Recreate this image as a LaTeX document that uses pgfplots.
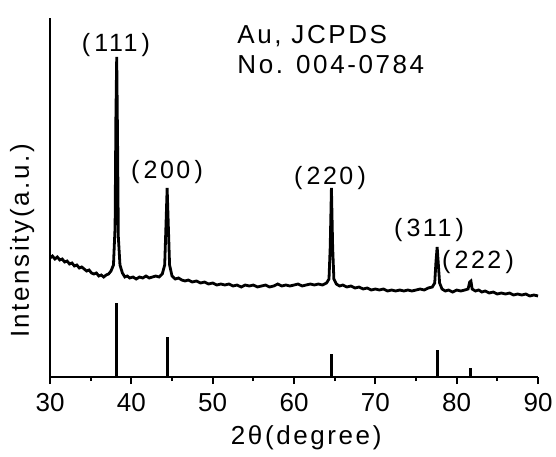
\documentclass[border=0pt]{standalone}
\usepackage{fontspec}
\setmainfont[LetterSpace=10]{Liberation Sans}
\newfontfamily\tickfont{Liberation Sans}
\usepackage{pgfplots}
\pgfplotsset{compat=1.18}

% measured XRD pattern (heights in image pixels above the x axis)
\pgfplotstableread{
x y
30.0 119
30.3 121
30.6 118
30.9 120
31.2 117
31.5 118
31.8 115
32.1 116
32.4 113
32.7 114
33.0 111
33.3 112
33.6 109
33.9 110
34.2 108
34.5 106
34.8 107
35.1 104
35.4 103
35.7 104
36.0 101
36.3 102
36.6 100
36.9 102
37.2 103
37.5 106
37.8 112
38.0 150
38.1 260
38.2 320
38.3 240
38.4 140
38.6 112
38.9 104
39.2 100
39.5 101
39.8 99
40.2 100
40.6 98
41.0 100
41.4 99
41.8 101
42.2 99
42.6 100
43.0 101
43.4 100
43.8 103
44.1 112
44.25 150
44.4 189
44.55 150
44.7 112
45.0 101
45.4 98
45.8 99
46.2 97
46.6 96
47.0 97
47.5 95
48.0 96
48.5 94
49.0 95
49.5 93
50.0 94
50.5 92
51.0 93
51.5 92
52.0 93
52.5 91
53.0 92
53.5 90
54.0 92
54.5 91
55.0 92
55.5 90
56.0 91
56.5 92
57.0 90
57.5 91
58.0 93
58.5 91
59.0 92
59.5 91
60.0 92
60.5 93
61.0 91
61.5 92
62.0 93
62.5 92
63.0 93
63.5 92
64.0 94
64.3 98
64.45 130
64.6 189
64.75 130
64.9 98
65.2 93
65.6 91
66.0 92
66.5 90
67.0 91
67.5 89
68.0 90
68.5 88
69.0 89
69.5 87
70.0 88
70.5 87
71.0 88
71.5 86
72.0 87
72.5 86
73.0 87
73.5 86
74.0 87
74.5 86
75.0 87
75.5 88
76.0 87
76.5 89
77.0 90
77.3 94
77.45 115
77.6 130
77.75 112
77.9 94
78.2 88
78.6 86
79.0 87
79.5 85
80.0 87
80.5 86
81.0 87
81.4 88
81.6 95
81.75 96
81.9 88
82.3 86
82.7 87
83.1 85
83.5 86
84.0 84
84.5 85
85.0 83
85.5 84
86.0 83
86.5 84
87.0 82
87.5 83
88.0 82
88.5 83
89.0 81
89.5 82
90.0 81
}\xrd

\begin{document}
\begin{tikzpicture}[font=\fontsize{12.5}{15}\selectfont]
\begin{axis}[
  scale only axis, width=244pt, height=179.5pt,
  xmin=30, xmax=90, ymin=0, ymax=359,
  axis lines*=left, axis line style={line width=1pt},
  xtick={30,40,...,90}, minor x tick num=1, ytick=\empty,
  xtick pos=bottom, tick align=outside,
  major tick length=3.5pt, minor tick length=2pt,
  every tick/.style={line width=0.9pt, black},
  /pgf/number format/assume math mode=true,
  tick label style={font=\tickfont\fontsize{13}{16}\selectfont},
  xticklabel style={inner sep=0.5pt, yshift=-4pt},
  clip=false,
]
\path (axis cs:23.85,-74) rectangle (axis cs:92.21,377);
\addplot[black, line width=1.4pt] table[x=x, y=y] {\xrd};
\addplot[ycomb, black, line width=1.4pt, mark=none] coordinates {
  (38.2,74) (44.4,40) (64.6,23) (77.6,27) (81.7,9)};
\node at (axis cs:38.11,332) {(\,111\,)};
\node at (axis cs:44.39,205) {(\,200\,)};
\node at (axis cs:64.43,199) {(\,220\,)};
\node at (axis cs:76.6,147) {(\,311\,)};
\node at (axis cs:82.62,115) {(\,222\,)};
\node[anchor=west, align=left, inner sep=0pt, font=\fontsize{13}{15}\selectfont]
  at (axis cs:52.99,327) {Au, JCPDS\\No. 004-0784};
\node[rotate=90, font=\fontsize{13}{15}\selectfont] at (axis cs:26.56,136) {Intensity(a.u.)};
\node[font=\fontsize{13}{15}\selectfont] at (axis cs:61.5,-61) {2θ(degree)};
\end{axis}
\end{tikzpicture}
\end{document}
